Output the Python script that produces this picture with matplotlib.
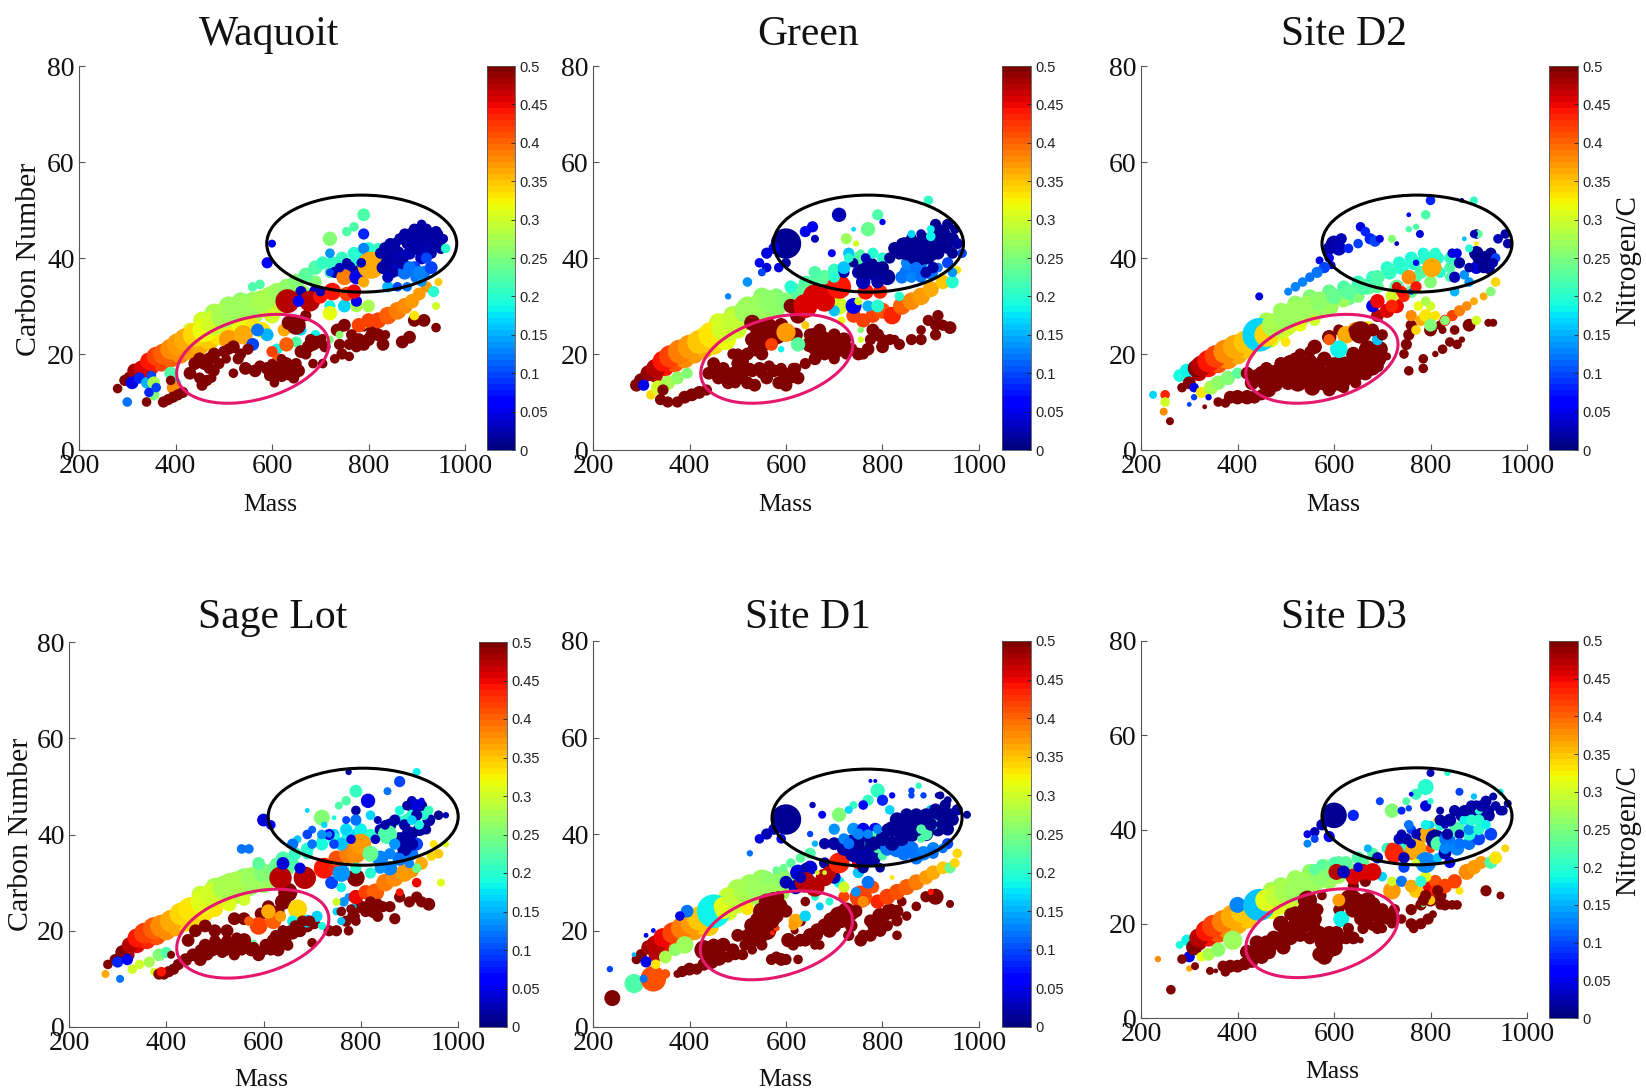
import numpy as np
import matplotlib
matplotlib.use("Agg")
import matplotlib.pyplot as plt
from matplotlib.patches import Ellipse
from matplotlib.transforms import IdentityTransform

# every point is (mass, carbon number, nitrogen/C, relative abundance)
# *_band sits under the main points, *_fill on top of them
waquoit_band = [
    (440,22.5,.36,15),(470,24.5,.33,16),(500,26,.31,16),(530,28,.28,15),(560,28.5,.28,14),(590,29.5,.29,12),(620,32,.27,11),(650,33,.26,10),
    (330,16,.46,8),(350,17,.44,9),(370,18,.42,10),(390,19,.4,11),(410,20,.38,12),(430,21,.37,13),(450,22,.36,13),(470,23,.35,13),
    (490,24,.33,13),(510,25,.33,12),(535,26,.32,11),(560,26,.33,9),(430,25,.3,9),(455,27,.3,11),(480,28.5,.28,12),(510,30,.27,12),
    (535,31,.26,11),(560,31.5,.27,9),(600,28,.3,10),(620,30,.29,10),(640,31,.28,9),(665,33,.27,8),(690,35,.25,8),(720,37,.22,7),
    (745,38,.21,7),(770,39,.2,7),(790,40,.18,7),
]
waquoit = [
    (280,12.8,.5,6),(295,14.5,.5,7),(305,15,.5,8),(315,16.5,.48,9),(330,17,.46,10),(345,18.5,.44,11),(360,19.5,.42,12),
    (375,20,.4,13),(390,21,.38,13),(405,22,.37,14),(420,23,.36,14),(440,24,.34,15),(460,25,.32,15),(480,26.5,.3,16),
    (500,28,.28,16),(520,29,.27,15),(540,30,.27,14),(560,30,.27,13),(580,31,.28,14),(595,32,.28,12),(610,33,.27,11),
    (630,34,.26,10),(560,34,.22,6),(575,34.5,.22,6),(650,35,.25,10),(670,36.5,.23,9),(690,38,.22,9),(705,39,.21,8),
    (725,39,.21,8),(745,40,.21,8),(770,41,.2,8),(800,42,.2,8),(820,42,.21,7),
    (310,14,.05,8),(325,15,.08,7),(340,14,.15,7),(350,15.5,.1,6),(355,14,.28,8),(355,11.5,.25,7),(345,12,.08,6),(360,13,.1,6),
    (300,10,.12,6),(390,16,.22,8),(400,14,.2,7),(395,13,.38,8),(340,10,.5,6),(375,10,.5,7),(385,10.5,.5,7),(395,11,.5,7),
    (405,11.5,.5,7),(415,12,.5,7),(390,14.5,.5,6),
    (510,23,.37,12),(540,24,.36,12),(580,25,.33,10),(560,22,.1,8),(590,24,.15,8),(570,25,.12,8),(650,22.5,.22,7),(610,21,.18,7),
    (612,19,.4,7),(600,20.5,.42,7),(630,22,.4,9),(625,25,.36,8),(690,24,.18,6),(660,25,.17,7),
    (430,16,.5,8),(440,18,.5,8),(450,19,.5,8),(460,18,.5,8),(470,19,.5,8),(480,20,.5,8),(450,15,.5,7),(455,13.5,.5,7),
    (465,14.5,.5,7),(480,16.5,.5,7),(475,15,.5,6),(500,20.5,.5,7),(510,21,.5,7),(520,21.5,.5,8),(535,20,.5,7),(530,19,.5,7),
    (545,17,.5,8),(520,16,.5,6),(550,21,.5,7),(565,16.5,.5,8),(590,17,.5,8),(600,16,.5,8),(610,17,.5,9),(625,17.5,.5,9),
    (635,16,.5,9),(605,14,.5,6),(620,15.5,.5,8),(630,18,.5,8),(650,18,.5,7),(655,16.5,.5,8),(645,15,.5,7),(660,20.5,.5,8),
    (675,21.5,.5,8),(685,22,.5,8),(695,22.5,.5,8),(705,23,.5,7),(685,18,.5,6),(705,18,.5,6),(730,19,.5,6),(745,20,.5,7),
    (760,22,.5,7),(780,23,.5,8),(790,22,.5,8),(800,23,.5,8),(820,24,.5,8),(830,22,.5,8),(870,22.5,.5,8),(885,23.5,.5,8),
    (895,27,.5,8),(915,27,.5,8),(940,25.5,.5,6),(735,25,.5,8),(750,26,.5,8),(635,26.5,.5,9),(650,26,.5,12),(670,28,.5,7),
    (790,26,.5,8),(810,25,.5,8),(720,23,.25,5),(740,24,.26,5),(790,26,.28,5),
    (780,26,.42,9),(800,27,.42,9),(820,27,.42,10),(840,28,.4,11),(860,29,.39,11),(875,30,.38,10),(890,31,.37,9),(905,32.5,.37,8),
    (920,34,.37,7),(935,33,.2,7),(945,35,.35,5),(940,30,.3,5),(895,28,.33,6),(720,30,.18,7),(750,30,.17,8),(720,28.5,.32,9),
    (775,30,.28,8),(800,30,.28,8),(840,34,.15,7),
    (660,33,.03,7),(690,33,.03,8),(730,37,.03,7),(760,38,.03,8),(780,37,.02,9),(720,41,.14,6),(790,42,.13,7),(775,31,.05,7),
    (632,31,.47,15),(678,31,.47,13),(655,31,.06,7),(700,32,.44,9),(725,33,.44,11),(755,32.5,.42,9),(770,33,.45,9),(750,36,.39,10),
    (775,36,.05,9),(790,35,.36,7),(805,38.5,.36,17),
    (830,38,.02,8),(840,39,.02,9),(850,40,.02,10),(860,41,.02,9),(870,40,.03,8),(880,43,.02,7),(890,43.5,.02,7),(900,44,.02,8),
    (910,45,.02,8),(920,46,.02,7),(930,44.5,.02,8),(940,45.5,.02,7),(945,43,.02,8),(950,42,.02,7),(925,42,.03,8),(905,42,.03,8),
    (885,41,.03,8),(860,37.5,.04,8),(910,40,.03,8),(895,38,.1,8),(915,37,.12,8),(875,37,.12,9),(900,36,.12,8),(930,38,.1,8),(960,42,.2,6),
    (720,44,.25,9),(755,45.5,.22,6),(770,46.5,.22,6),(790,49,.22,8),(790,45,.08,7),(600,43,.05,5),(590,39,.06,7),
]
waquoit_fill = [
    (825,41,.02,7),(835,42,.02,8),(845,43,.02,7),(855,43,.02,7),(865,44,.02,7),(875,45,.02,7),(885,45,.02,7),(895,46,.02,7),
    (905,46,.02,7),(915,44,.02,8),(925,44,.02,8),(935,43,.02,7),(945,45,.02,6),(955,44,.02,6),(910,47,.02,6),(870,39,.02,8),
    (850,37,.02,7),(840,36,.03,7),(900,42,.02,8),(930,41,.02,7),(860,34,.1,6),(880,34,.12,6),(910,35,.14,6),(920,40,.1,7),
    (885,38,.12,8),(905,37,.13,8),(740,38,.03,6),(755,39,.02,6),(785,39,.03,6),(720,37,.1,5),(700,33,.03,6),
    (470,17,.5,7),(490,18,.5,7),(505,19,.5,6),(575,17.5,.5,7),(595,15.5,.5,7),(615,16,.5,7),(600,18,.5,6),(640,17,.5,7),
    (620,19,.5,6),(670,20,.5,7),(680,23,.5,7),(710,21.5,.5,7),(740,22,.5,7),(765,24,.5,7),(775,21.5,.5,7),(805,24,.5,7),
    (760,19.5,.5,6),(835,24,.5,6),
]

green_band = [
    (460,24,.32,15),(490,26,.3,16),(520,27.5,.28,15),(550,29,.27,14),(580,30,.26,13),(620,32,.24,11),
    (330,15.5,.47,9),(350,17,.44,10),(370,18,.41,11),(390,19,.38,12),(410,20,.37,12),(430,21,.36,12),(450,22,.34,13),(475,23,.32,13),
    (500,25,.3,11),(430,24,.32,10),(460,26.5,.3,12),(490,28,.28,12),(520,30,.27,12),(550,32,.26,11),(580,32,.25,10),(610,30,.27,9),
    (640,35,.22,8),(660,35,.23,9),(690,34,.46,9),
]
green = [
    (290,13.5,.5,8),(300,14.5,.5,9),(315,16,.49,10),(330,17,.47,12),(345,18.5,.44,13),(360,19.5,.42,14),(380,20.5,.39,15),
    (400,21.5,.37,15),(420,22.5,.35,15),(445,24,.33,16),(475,25.5,.3,18),(495,27,.29,16),(520,29,.27,16),(545,30,.27,15),
    (565,31,.26,14),(600,31,.25,11),(625,33,.23,10),(650,34,.23,10),(680,36,.23,9),(700,37.5,.21,8),(660,37,.22,8),(610,34,.2,8),
    (305,13.5,.05,7),(320,11.5,.34,6),(335,13,.3,9),(355,14,.28,9),(375,15,.26,8),(395,16,.25,7),(345,12.5,.5,7),(340,10.5,.5,7),
    (355,10,.5,7),(375,10,.5,7),(390,11,.5,8),(405,11.5,.5,8),(420,12,.5,8),(435,12.5,.5,7),
    (440,16,.5,8),(450,18,.5,8),(460,15,.5,8),(470,17,.5,8),(480,14,.5,8),(490,16,.5,8),(500,18,.5,8),(510,16,.5,8),(520,14,.5,8),
    (530,16.5,.5,8),(535,13.5,.5,8),(545,17,.5,8),(560,15,.5,8),(575,16.5,.5,8),(585,14,.5,8),(595,16,.5,8),(600,13.5,.5,8),
    (625,15,.5,8),(640,18,.5,7),(615,17,.5,7),(490,20,.5,7),(510,18.5,.5,8),(520,20,.5,8),(535,21,.5,9),(550,22,.5,10),
    (560,24,.5,12),(545,25,.5,11),(530,26.5,.5,10),(580,24,.5,12),(590,26,.5,9),(620,24,.5,9),(650,22,.5,10),(660,24,.5,9),
    (680,23,.5,10),(700,22,.5,10),(720,23,.5,9),(735,21,.5,8),(660,19,.5,8),(680,20,.5,8),(700,19,.5,7),(725,20,.5,7),(750,20,.5,8),
    (770,21,.5,8),(790,24,.5,8),(800,21.5,.5,8),(815,23,.5,7),(835,22,.5,7),(860,23,.5,7),(880,23,.5,7),(895,27,.5,7),(910,26,.5,7),
    (915,28,.5,7),(925,26,.5,7),(940,25.5,.5,8),(910,24,.5,7),(760,20,.5,7),(780,25,.5,8),(610,30,.5,9),(625,28,.5,10),
    (570,22,.42,8),(625,22,.23,9),(600,24.5,.37,12),(640,26,.35,5),(590,21,.18,4),
    (740,28,.42,9),(760,27,.42,9),(780,28,.42,9),(800,29,.41,10),(820,28,.43,11),(840,30,.4,11),(860,31,.38,11),(880,32,.37,11),
    (900,33.5,.36,10),(925,35,.35,9),(945,35,.2,8),(755,25,.25,4),(755,23,.3,4),(715,27,.32,5),
    (710,30,.3,11),(700,29,.16,7),(740,30,.05,10),(770,30,.15,7),(790,30,.2,8),(835,32,.2,6),(750,31,.3,5),
    (640,30,.46,15),(660,32,.46,15),(680,31,.46,13),(710,34,.44,15),(765,33,.44,10),(795,33,.43,9),
    (790,37,.01,13),(770,38,.01,14),(810,36,.01,10),(750,37,.02,8),(720,37,.02,7),(760,35,.03,9),
    (850,37,.12,9),(870,37,.12,9),(855,39,.13,10),(900,37,.12,9),(880,39,.12,8),(840,36,.12,8),(935,39,.1,7),
    (850,41,.01,9),(870,42,.01,10),(890,42,.01,10),(840,43,.01,7),(860,44,.01,7),(880,40,.01,9),(900,41,.01,10),(920,43,.01,9),(930,45,.01,7),
    (905,45,.01,7),(910,47,.01,7),(935,47,.01,7),(945,44,.01,8),(955,43,.02,7),(965,41,.1,6),(955,37.5,.33,5),
    (880,45,.02,6),(800,40,.2,7),(780,41,.2,7),(750,40,.22,8),(730,41,.16,7),(720,38,.16,8),(745,43,.3,4),(755,41,.22,5),
    (600,43,.01,19),(575,42,.04,7),(560,41,.04,7),(545,39,.06,6),(560,38,.04,6),(550,37,.1,5),(520,35,.14,6),(480,32,.13,4),
    (585,38,.04,6),(600,39,.02,6),(640,45.5,.05,7),(655,46.5,.05,7),(660,44,.03,5),(710,49,.03,9),(695,41,.06,5),(725,44,.27,7),
    (740,46,.17,3),(770,46,.24,9),(790,49,.22,7),(800,47.5,.05,4),(895,52,.21,6),
]
green_fill = [
    (460,17,.5,7),(475,16,.5,7),(495,14,.5,7),(505,15,.5,7),(525,17,.5,7),(550,16,.5,7),(565,17.5,.5,7),(590,17,.5,7),(610,15,.5,7),
    (620,17,.5,7),(500,20,.5,7),(530,23,.5,9),(550,20,.5,8),(540,24,.5,9),(565,26,.5,9),(660,21,.5,8),(675,22,.5,8),(690,21,.5,8),
    (705,20.5,.5,8),(720,21,.5,8),(650,24,.5,8),(670,25,.5,8),(700,24,.5,8),(775,23,.5,7),(800,23,.5,7),(825,23,.5,6),(880,25,.5,6),
    (815,40,.01,7),(825,42,.01,8),(835,41,.01,8),(845,43,.01,8),(855,42,.01,8),(865,40,.01,8),(875,43,.01,8),(885,44,.01,8),(895,40,.01,8),
    (905,43,.01,8),(915,41,.01,8),(925,45,.01,7),(935,42,.01,7),(945,41,.01,7),(950,46,.01,6),(920,46,.01,6),(760,37,.01,8),(780,37,.01,9),
    (790,35,.02,8),(800,38,.01,8),(740,39,.01,6),(765,40,.03,6),(860,36,.13,7),(880,36,.12,7),(915,38,.12,6),(890,37,.02,7),(905,38,.02,7),
    (870,38,.12,7),(945,37,.14,6),(700,36,.2,7),(730,40,.2,6),(860,45,.17,5),(900,46,.18,5),(900,44.5,.18,6),
]

site_d2_band = [
    (470,25,.3,14),(500,26,.29,14),(530,28,.28,14),(560,29,.27,13),(590,30,.27,12),(630,32,.24,11),(670,34,.23,10),
    (320,16,.47,10),(340,17,.44,11),(360,18,.41,12),(380,19,.38,13),(400,20,.36,13),(420,21,.35,12),(470,23,.31,10),(490,24.5,.3,11),
    (510,26,.3,10),(530,26,.32,8),(560,27,.3,7),(460,27,.28,10),(490,29,.27,10),(520,30.5,.26,10),(550,32,.25,9),(590,33,.24,9),(620,34,.22,8),
    (650,35,.21,8),(680,36,.21,8),(710,38,.2,8),(735,39,.2,8),(760,40,.19,8),(785,41,.19,7),(810,41,.2,7),(580,30,.27,8),(620,31,.27,8),
    (650,32,.25,8),(690,34,.23,8),(840,38,.22,7),(770,36,.22,7),(820,37,.2,7),(840,36,.22,6),
]
site_d2 = [
    (280,15.5,.19,8),(295,16.5,.18,9),(315,17,.5,11),(325,17.5,.47,13),(340,18.5,.44,14),(355,19.5,.42,14),(375,20.5,.38,15),
    (395,21.5,.36,15),(415,22.5,.35,14),(445,24,.17,21),(460,24,.34,15),(475,26,.28,15),(500,27.5,.27,15),(520,29,.27,14),
    (545,30,.27,13),(570,31,.26,12),(600,32,.24,10),(630,33,.23,10),(660,34,.22,10),(690,36,.22,9),(715,37,.21,9),(740,38,.2,9),
    (765,39,.2,9),(790,40,.2,9),(815,40,.2,8),(840,40,.21,7),(860,39,.2,7),(780,37,.22,8),(730,34,.23,9),(760,33,.24,8),(800,35,.25,8),
    (225,11.5,.17,5),(250,11.5,.43,6),(250,10,.3,6),(247,8,.38,5),(260,6,.5,5),(300,9.5,.1,3),(310,11,.1,4),(332,9,.5,3),
    (285,13,.5,6),(300,14,.5,8),(310,13,.05,6),(325,12,.33,7),(345,13,.28,9),(360,14,.26,9),(380,15,.25,9),(400,16,.23,7),(340,11,.05,4),
    (360,10,.5,6),(375,9.8,.5,6),(385,11,.5,8),(400,11,.5,9),(420,11,.5,9),(435,11,.5,8),(450,11.5,.5,7),
    (420,16,.5,8),(440,15,.5,11),(460,14,.5,11),(480,16,.5,11),(465,12.5,.5,9),(495,15,.5,11),(510,18,.5,11),(525,14,.5,11),(540,16,.5,11),
    (555,13,.5,10),(570,16,.5,11),(585,14,.5,11),(600,17,.5,11),(615,14,.5,11),(630,16,.5,11),(645,17,.5,11),(660,18,.5,11),(675,18,.5,11),
    (690,19,.5,11),(695,21,.5,10),(670,21,.5,11),(640,20,.5,9),(610,18,.5,9),(580,19,.5,9),(550,18.5,.5,9),(520,19,.5,8),(490,18,.5,8),
    (645,14,.5,7),(620,13,.5,7),(590,12.5,.5,8),(710,19.5,.5,5),(560,21.5,.5,9),(590,23.5,.5,9),(610,25,.5,7),(500,22.5,.33,6),
    (625,24,.36,11),(645,25,.38,10),(670,25.5,.33,8),(690,23,.16,7),(640,25,.5,6),(655,24.5,.5,14),(610,21,.18,11),(590,23,.4,7),
    (680,25,.5,8),(700,24,.5,7),(750,22,.5,7),(755,24,.5,7),(760,26,.5,7),(745,20,.5,6),(755,16.5,.5,6),(785,19,.5,6),(785,17,.5,6),
    (800,25,.5,8),(820,26,.5,6),(810,20,.5,4),(825,21,.5,6),(840,22.5,.5,6),(855,22,.5,6),(850,25,.5,6),(865,23,.5,4),(880,26,.5,8),
    (920,26.5,.5,5),(930,26.5,.5,5),(825,25,.5,5),(830,27,.43,7),(845,28,.42,7),(860,29,.39,7),(875,30,.38,6),(890,31,.36,5),(910,32,.36,5),
    (935,35,.34,6),(925,33,.25,6),(895,27,.3,6),(770,25,.34,6),(780,27,.36,7),(790,28,.33,8),(810,28,.33,6),(800,26,.25,8),(830,27,.25,6),
    (690,28,.47,8),(710,29,.46,9),(730,30,.45,9),(680,30,.05,8),(690,31,.45,9),(720,32,.3,8),(745,32,.43,7),(775,30,.32,6),(800,30,.3,6),
    (760,28,.38,7),(790,31,.28,6),(850,33,.15,6),(720,30,.43,8),(740,33,.44,7),(730,34,.46,6),(760,33,.1,4),
    (755,36,.38,9),(770,34,.44,7),(803,38,.36,12),(770,39,.05,4),(850,36,.03,7),(870,36.5,.14,6),(880,35,.14,6),(860,39,.02,7),
    (845,41,.04,6),(855,41,.05,6),(895,41,.01,9),(905,39,.01,9),(915,40,.01,9),(925,41,.01,7),(920,38,.02,8),(895,38,.04,8),(935,40,.1,6),
    (895,45,.02,6),(940,44,.03,6),(955,45,.02,6),(960,43,.02,6),(900,45,.23,5),(870,44,.16,3),(895,43,.33,3),(880,42,.2,5),
    (590,42,.02,8),(600,43,.02,10),(610,42,.03,9),(615,44,.03,7),(630,42,.08,6),(650,43,.1,6),(655,46.5,.04,6),(665,45.5,.08,6),(675,44,.08,7),
    (685,43.5,.1,7),(695,44,.04,5),(590,40,.05,6),(570,39.5,.05,5),(595,38.5,.05,5),(580,38,.1,7),(565,37,.12,7),(550,36,.12,6),(535,35,.13,6),
    (520,34,.13,6),(505,33,.13,5),(445,32,.04,5),(720,44,.25,5),(730,43,.03,3),(755,46,.22,4),(770,46.5,.22,4),(790,49,.22,6),(778,45,.04,5),
    (755,49,.06,3),(800,52,.08,6),(865,52,.03,3),(890,52,.21,5),(890,45,.03,5),
]
site_d2_fill = [
    (430,14,.5,9),(450,16,.5,9),(470,15,.5,9),(480,13.5,.5,8),(505,14,.5,9),(520,16,.5,9),(535,18,.5,9),(550,15,.5,9),(560,17,.5,9),(575,14,.5,9),
    (590,16,.5,9),(595,13,.5,7),(605,15,.5,9),(625,15,.5,9),(640,15.5,.5,9),(650,16,.5,9),(665,16,.5,9),(680,17,.5,9),(690,17.5,.5,8),(600,18,.5,8),
    (625,18,.5,9),(650,19,.5,9),(680,20,.5,9),(570,18,.5,8),(530,20,.5,7),(460,17,.5,8),(490,18,.5,8),(550,20.5,.5,7),(700,20,.5,6),
    (900,40,.01,8),(910,38,.01,7),(880,38,.02,6),(930,39,.02,6),
]

sage_lot_band = [
    (450,23,.35,15),(480,25,.32,15),(510,27,.3,15),(540,28,.28,15),(570,29.5,.27,14),(600,30,.27,13),(630,32,.26,11),
    (320,15,.48,9),(340,17,.46,10),(360,18,.43,11),(380,19,.41,12),(400,20,.38,12),(420,21,.36,13),(440,22,.34,13),(460,23,.34,13),(480,24,.33,12),
    (500,24.5,.33,10),(530,25.5,.31,9),(560,26.5,.3,8),(440,25,.31,9),(470,27.5,.29,11),(500,29,.28,12),(530,30,.27,12),(560,31,.26,12),(590,32,.25,11),
    (620,31,.27,10),(650,33,.24,9),(625,34,.23,7),(660,34,.22,8),(690,36,.2,7),(720,39,.18,6),(745,40,.17,7),(770,39,.19,7),(790,40,.17,7),
]
sage_lot = [
    (275,11,.36,5),(280,13,.5,6),(295,14,.5,7),(310,15.5,.5,9),(325,17,.47,10),(340,18.5,.44,12),(355,19.5,.42,13),(375,20.5,.4,14),
    (390,21,.38,14),(410,22,.36,14),(430,23.5,.34,14),(450,24.5,.33,15),(475,26,.31,15),(495,27.5,.3,15),(520,29,.28,15),(545,30,.28,14),
    (575,31,.27,13),(600,32,.25,12),(625,33,.24,10),(590,34,.23,8),(640,35,.22,9),(665,36,.21,8),(690,37,.2,8),(720,38,.19,8),(745,39,.19,8),
    (770,41,.19,8),(800,41,.18,8),(820,40,.2,7),(555,37,.12,6),(570,37,.12,6),
    (305,10,.12,5),(300,13.5,.08,7),(320,14,.06,7),(330,12,.3,6),(345,13,.3,6),(365,13.5,.28,7),(385,15,.25,8),(400,15.5,.22,7),(375,11.5,.3,5),
    (385,11,.5,7),(395,11,.5,7),(405,11.5,.5,7),(415,12,.5,7),(425,13,.5,7),(390,11.5,.44,6),(410,15,.5,5),
    (440,14,.5,8),(455,15,.5,8),(470,14,.5,8),(480,17,.5,8),(495,16,.5,8),(510,17,.5,8),(520,16,.5,8),(535,17,.5,9),(550,17.5,.5,9),(560,18,.5,9),
    (540,15,.5,7),(575,16,.5,8),(590,15,.5,8),(605,17,.5,8),(620,18,.5,8),(635,18,.5,8),(645,18.5,.5,8),(630,16,.5,8),(660,19.5,.5,8),(675,20,.5,8),
    (690,21,.5,8),(705,21.5,.5,7),(700,17.5,.5,6),(655,20,.5,7),(445,18,.5,8),(460,20,.5,8),(480,21,.5,8),(500,20,.5,8),(525,20,.5,8),(540,22.5,.5,8),
    (560,22.5,.5,8),(595,23.5,.5,8),(610,25,.5,8),(640,26,.5,10),(650,28,.5,12),(630,24,.5,8),(735,20,.5,7),(750,20,.5,7),(770,22,.5,7),(785,23,.5,8),
    (800,25,.5,8),(825,24,.5,8),(835,23,.5,7),(870,22.5,.5,7),(860,25,.5,7),(880,27,.5,7),(900,26,.5,7),(915,27,.5,7),(925,26,.5,7),(940,25.5,.5,8),(775,20,.5,6),
    (590,21,.42,11),(570,22,.4,6),(620,22,.4,10),(610,24,.36,9),(635,23,.37,7),(670,24.5,.34,12),(660,22,.18,7),(690,22,.17,8),(710,23,.17,7),(720,21,.19,5),
    (750,24,.17,5),(765,26,.14,6),(775,27,.14,5),(760,22,.16,5),(750,26,.3,5),(760,29,.18,6),(785,25,.16,4),(580,17.5,.24,4),
    (790,27,.45,9),(810,28,.42,9),(830,28,.4,11),(850,30,.39,11),(870,31,.38,11),(890,32,.37,11),(905,32.5,.37,9),(925,34,.36,8),(915,33,.24,6),(880,28,.44,5),
    (915,30,.45,6),(965,30,.31,5),(960,36,.35,6),(945,35.5,.34,6),(950,38,.33,5),(975,38,.31,4),
    (635,31,.47,14),(685,31,.47,14),(725,33,.44,13),(750,33,.43,10),(740,30,.1,8),(640,34,.04,8),(675,33,.04,7),(790,31,.5,11),(760,32,.14,11),
    (750,35,.41,10),(775,36,.39,12),(790,36,.38,12),(800,38,.37,13),
    (860,33,.13,9),(840,35,.13,10),(880,35,.12,9),(905,36,.12,8),(790,33,.2,7),(820,32,.2,7),(820,36,.24,10),
    (760,38,.16,8),(735,40,.05,7),(700,41,.11,5),(690,40,.1,6),(670,39,.16,5),(660,38,.12,7),
    (840,41,.02,7),(860,42,.02,8),(880,39,.02,9),(900,40,.02,10),(920,41,.01,8),(890,37,.02,9),(940,43,.02,8),(960,44,.01,6),(925,46,.01,7),(905,46,.03,8),
    (895,43,.21,8),(855,40,.22,12),(875,43,.2,7),(905,44,.2,7),(930,44,.2,6),(915,38,.1,8),
    (600,43,.04,8),(615,42,.06,6),(720,43.5,.25,10),(690,45,.17,3),(725,42,.17,4),(745,43.5,.19,3),(735,40,.13,4),(755,46,.22,5),(770,47,.22,6),
    (790,49,.21,8),(775,53,.02,4),(790,45,.02,6),(815,47,.05,9),(855,49,.12,5),(880,51,.1,7),(915,53,.18,5),(790,43,.12,7),(770,43,.1,5),(835,43,.03,5),
    (905,47,.03,6),(925,47,.05,4),(940,45,.21,6),(975,44,.03,4),(915,46,.04,8),
]
sage_lot_fill = [
    (470,16,.5,7),(485,15,.5,7),(500,18,.5,7),(515,15.5,.5,7),(525,18,.5,7),(545,18.5,.5,7),(555,16,.5,7),(565,17,.5,7),(580,16.5,.5,7),(600,16,.5,7),
    (615,16,.5,7),(625,19,.5,7),(650,17,.5,7),(665,21,.5,7),(680,22,.5,7),(695,22,.5,7),(640,20,.5,7),(760,24,.5,6),(780,24.5,.5,6),(810,24,.5,7),
    (845,25,.5,7),(820,26,.5,7),(835,25.5,.5,7),(790,22,.5,6),(830,39,.03,6),(850,42,.02,6),(870,43,.02,7),(890,42,.02,7),(915,44,.02,7),(935,41,.02,6),
    (905,38,.02,8),(925,41,.02,7),(880,35,.12,7),(860,36,.13,7),(840,33,.14,7),(900,34,.13,6),(870,38,.14,7),(700,38,.12,6),(720,40,.14,6),(745,38,.1,6),
    (770,41,.17,7),(780,39,.04,6),(820,44,.17,6),(880,45,.19,6),(895,46,.02,6),(920,42,.19,6),(905,43,.17,6),
]

site_d1_band = [
    (440,21,.35,13),(510,27,.28,14),(540,28.5,.27,14),(575,28,.26,13),
    (330,15,.47,9),(350,17,.45,10),(370,18,.42,11),(390,19,.39,12),(410,20,.37,12),(430,21,.35,12),(370,20,.42,11),(480,24,.3,12),(500,25.5,.3,12),
    (520,26.5,.29,11),(540,27,.28,11),(560,27.5,.27,11),(480,27,.29,12),(500,28.5,.28,13),(525,29.5,.27,13),(550,30.5,.27,13),(570,28.5,.27,12),
]
site_d1 = [
    (290,14,.5,6),(300,15,.5,7),(315,16.5,.48,9),(330,17,.47,12),(345,18.5,.45,12),(365,19.5,.42,13),(385,20.5,.39,14),(405,21.5,.37,14),
    (420,22.5,.35,15),(395,24,.12,8),(380,23,.05,6),(450,24,.18,21),(470,25,.32,12),(490,26.5,.29,14),(515,28,.28,14),(535,29,.27,13),
    (555,30,.27,13),(575,29,.27,11),(590,28,.27,11),(470,24,.31,10),(520,24.5,.33,8),
    (285,15,.15,3),(310,19,.05,3),(325,20,.05,3),(235,12,.1,4),(240,6,.5,10),(232,6,.5,4),(285,9,.22,12),(325,10,.41,16),(305,10,.12,5),(350,11,.41,6),
    (310,13.5,.05,7),(330,13,.33,6),(350,14.5,.28,8),(370,16,.26,8),(390,17,.27,11),(375,11,.5,5),(385,11.5,.5,7),(400,12,.5,8),(415,12,.5,7),(430,13,.5,8),(445,13.5,.5,9),
    (430,16,.5,12),(460,14.5,.5,11),(470,17,.5,9),(490,16,.5,8),(510,15,.5,7),(515,17,.5,7),(500,19,.5,8),(525,18,.5,9),(545,19,.5,11),(560,20,.5,12),
    (530,21,.5,10),(545,22,.5,12),(565,24,.5,13),(575,26,.5,12),(585,25,.5,11),(600,24,.5,8),(570,14,.5,7),(580,14.5,.5,7),(590,14,.5,8),(600,14,.5,7),(625,14,.5,6),
    (660,17,.5,6),(615,17,.5,7),(605,18,.5,9),(630,18,.5,8),(650,19,.5,9),(665,20,.5,9),(680,21,.5,9),(695,22,.5,11),(710,23,.5,12),(725,24,.5,11),(735,21,.5,8),
    (730,19,.5,7),(755,18,.5,8),(775,19,.5,8),(795,20,.5,8),(810,21,.5,7),(775,22,.5,8),(795,23,.5,10),(815,24,.5,10),(830,19,.5,6),(830,22,.5,7),(850,23,.5,6),(870,25,.5,6),
    (890,27,.5,7),(910,27,.5,10),(940,25.5,.5,5),(840,26,.5,6),(640,26,.5,6),(585,27,.5,7),(630,22,.5,7),(580,20.5,.42,4),(572,19.5,.43,3),(618,20,.5,5),
    (620,22,.36,9),(615,21,.37,6),(640,23,.17,7),(670,25,.16,5),(690,26,.2,5),(660,27,.2,5),
    (790,26,.43,9),(810,27,.42,10),(830,28,.41,10),(850,29,.4,10),(870,30,.39,10),(890,31,.37,9),(905,32,.36,9),(925,33,.35,8),(940,33,.24,7),(955,36,.34,6),(950,34,.34,6),
    (900,28,.44,4),(755,27,.42,14),(720,27,.42,7),(745,24,.3,3),(760,26,.38,7),(780,29,.41,8),(820,31,.33,3),(770,30,.12,8),(750,32,.16,7),(710,30,.18,7),(720,29,.3,7),(745,28,.14,6),
    (560,31,.26,8),(590,31,.26,12),(610,30,.27,9),(580,32.5,.24,5),(595,33,.24,5),(610,34,.23,6),(630,35,.23,6),(650,36,.22,7),
    (600,30,.03,8),(620,29,.03,9),(625,32,.04,10),(650,33,.04,9),(680,34,.02,7),(700,31,.03,8),(640,30,.47,13),(660,29,.47,12),(680,31,.47,11),(690,32,.47,9),(710,34,.43,13),
    (665,32,.3,3),(680,32,.3,3),(750,34,.46,8),(740,36,.02,11),(760,35,.02,11),(780,35,.02,10),(720,37,.02,9),(700,38,.02,8),(680,38,.02,7),
    (740,38,.02,12),(770,38,.02,12),(720,39,.13,7),(740,41,.14,8),(700,41,.14,7),(760,41,.05,8),(785,41,.05,8),(760,38,.2,3),(790,37,.22,6),(800,35.5,.22,6),(785,40,.22,5),
    (820,41,.01,10),(840,42,.01,10),(860,43,.01,10),(880,43,.01,9),(900,43,.01,8),(920,44,.01,8),(940,44,.01,8),(955,45,.02,7),(975,44,.01,5),(935,47,.01,5),(920,48,.01,5),
    (860,40,.01,10),(890,40,.01,9),(915,41,.01,9),(935,41,.01,8),(800,38,.02,8),(810,37,.12,9),(830,37,.12,11),(860,37,.12,9),(885,36,.13,9),(905,37,.13,8),(935,38,.1,7),
    (880,39,.22,5),(890,40,.22,8),(905,42,.22,7),(880,44,.16,5),(900,45,.16,6),
    (600,43,.01,19),(575,41,.03,7),(560,40,.03,7),(545,39,.04,6),(590,39,.05,6),(525,36,.12,4),(655,46,.03,4),(650,40,.1,4),(660,38,.15,4),(675,44,.06,5),(710,44,.25,9),
    (740,46,.21,5),(790,49,.21,9),(770,47,.21,7),(730,45,.17,5),(760,46,.06,6),(800,47,.08,7),(820,48,.06,4),(815,45,.17,6),(775,51,.05,2.5),(785,51,.05,2.5),
    (860,49,.1,4),(860,48,.1,4),(875,50,.21,4),(885,48,.1,4),(915,48,.02,4),
]
site_d1_fill = [
    (440,15,.5,8),(450,17,.5,8),(480,14.5,.5,7),(495,15,.5,7),(520,19,.5,8),(535,18,.5,8),(550,17,.5,7),(530,16,.5,6),(550,24,.5,11),(560,26,.5,10),(540,21,.5,9),
    (570,22,.5,10),(580,23,.5,9),(665,19,.5,7),(640,18,.5,8),(670,17,.5,6),(690,20,.5,9),(700,21,.5,9),(715,22,.5,9),(735,23.5,.5,9),(745,24,.5,8),(790,22,.5,7),
    (810,23.5,.5,8),(830,24,.5,8),(760,19,.5,7),(780,21,.5,7),
    (800,39,.01,9),(820,38,.01,9),(840,39,.01,9),(830,43,.01,9),(850,44,.01,8),(870,44,.01,8),(890,44,.01,8),(910,45,.01,8),(930,46,.01,7),(945,43,.01,8),(870,41,.01,9),
    (900,42,.01,8),(925,42,.01,8),(760,36,.02,9),(780,38,.01,9),(750,38,.01,8),(730,38,.12,7),(750,40,.13,7),(770,40,.13,6),(790,41,.13,6),(810,41,.01,7),(845,36,.12,9),
    (870,35,.12,8),(905,36,.12,7),(925,37,.12,6),(880,41,.22,6),(630,31,.03,7),(640,33,.03,6),(760,33,.01,7),(795,33,.01,6),
]

site_d3_band = [
    (470,25,.3,14),(500,26,.29,14),(530,28,.28,14),(560,29,.27,13),(590,30,.26,12),(630,31,.25,10),
    (320,16,.47,10),(340,17,.44,11),(360,18,.41,12),(380,19,.38,13),(400,20,.36,13),(420,21,.35,12),(470,23,.32,12),(490,24,.31,12),(510,25,.3,11),(530,26,.29,10),
    (470,27,.28,11),(490,28,.27,11),(520,29.5,.27,11),(550,31,.26,10),(580,32,.25,10),(610,33,.23,8),(590,29,.27,10),(610,30,.27,9),(630,32,.25,8),(660,33,.23,8),
    (690,34,.22,7),(720,35,.22,7),(750,36,.21,7),(770,38,.21,7),
]
site_d3 = [
    (280,15.5,.19,5),(295,16.5,.18,7),(300,13,.05,7),(310,15,.5,10),(320,17,.47,12),(335,18.5,.44,13),(350,19.5,.42,14),(370,20.5,.39,14),
    (390,21.5,.36,15),(410,22.5,.35,14),(400,24,.13,10),(445,24,.16,20),(460,25,.31,14),(480,26,.29,14),(500,27,.28,15),(520,27,.27,14),
    (545,29,.27,13),(570,30,.26,12),(595,31,.25,10),(625,33,.23,8),(650,34,.22,8),(680,35,.22,7),(710,36,.21,7),(735,37,.2,7),(560,31.5,.23,7),(600,33,.22,7),(575,32.5,.23,7),
    (235,12.5,.38,4),(262,6,.5,6),(300,10.5,.36,4),(312,11,.5,5),(343,10,.5,5),(355,10,.5,3),(375,9.8,.5,6),
    (285,12.5,.5,6),(325,13,.32,6),(340,13.5,.28,8),(360,14.5,.26,9),(390,16.5,.27,12),(370,11,.5,7),(385,11,.5,8),(400,11,.5,8),(415,11.5,.5,8),(430,12,.5,8),
    (420,14,.5,9),(440,16,.5,9),(450,13,.5,9),(465,14,.5,9),(480,16,.5,9),(495,15,.5,9),(510,17,.5,9),(525,18,.5,10),(540,20,.5,11),(550,22,.5,11),(545,25,.5,12),
    (520,22,.5,10),(490,20,.5,10),(510,22,.5,8),(560,21,.5,9),(570,18,.5,9),(585,16,.5,9),(600,15,.5,11),(570,13.5,.5,9),(580,13,.5,10),(605,18,.5,9),(625,17,.5,8),(640,17,.5,8),(655,16.5,.5,4),
    (635,25,.5,14),(650,24,.5,14),(665,23,.5,12),(680,22,.5,9),(695,21,.5,8),(710,21,.5,7),(725,21,.5,7),(660,19,.5,7),(670,20,.5,7),(690,19,.5,7),(725,23,.5,7),
    (610,23,.5,7),(575,26,.5,6),(640,28,.5,7),(665,29,.5,7),
    (760,20,.5,7),(780,20,.5,7),(765,19,.5,6),(795,21,.5,7),(805,22,.5,5),(760,23,.5,7),(780,24,.5,7),(800,25,.5,8),(820,26,.5,8),(830,24,.5,7),(845,24,.5,6),(855,24,.5,6),(810,27,.5,7),
    (915,27,.5,7),(945,26,.5,5),(795,28,.45,7),(810,29,.41,8),
    (610,25,.37,8),(615,21,.18,10),(720,27,.37,11),(770,27,.35,9),(800,25,.35,6),(860,27,.33,5),(785,24,.25,3),(830,29,.3,4),(700,30,.17,6),(720,29,.3,6),(740,29,.12,7),(760,28,.36,8),
    (790,30,.32,7),(780,29,.2,7),(745,32,.1,7),(810,27,.43,7),(830,28,.42,9),(850,29,.42,9),(875,31,.38,10),(890,32,.37,9),(905,33,.37,8),(925,33,.22,8),(935,34,.33,8),(955,36,.34,5),
    (640,30,.46,10),(660,31,.46,10),(680,31,.46,11),(605,31,.47,10),(620,31,.03,8),(650,32,.04,6),
    (690,34,.03,7),(720,36,.43,7),(725,35,.43,12),(760,35,.38,9),(770,36,.36,13),(790,33,.13,13),(800,36,.42,6),(745,34,.03,7),(770,33,.3,5),(840,33,.05,7),(815,34,.16,6),
    (735,38,.03,7),(750,38,.02,7),(780,39,.02,8),(795,39,.36,11),(810,38,.01,12),(815,37,.22,9),(830,35,.02,8),(835,38,.12,10),(820,41,.2,7),(800,41,.16,5),(760,40,.1,6),
    (855,36,.13,9),(880,37,.12,8),(900,38,.1,8),(925,39,.1,8),(880,39,.2,8),(855,40,.22,10),(840,42,.02,8),(865,43,.02,8),(880,44,.02,8),(900,43,.02,8),(920,43,.02,8),(900,42,.2,7),
    (870,42,.18,6),(895,45,.02,7),(915,46,.02,7),(930,47,.02,5),(945,44,.02,6),(960,45.5,.02,5),(945,48,.18,4),(890,47,.16,4),(820,44,.02,5),(830,41,.03,5),(860,39,.03,6),(810,42,.33,3),(900,44,.2,5),
    (600,43,.01,16),(640,43,.08,7),(575,41,.03,7),(560,39.5,.03,6),(545,39,.05,5),(560,38,.1,5),(590,38.5,.05,7),(545,37,.13,5),(670,36,.15,5),(695,46,.1,5),
    (720,44,.25,9),(740,44,.08,5),(755,44.5,.1,4),(750,46,.22,5),(770,47.5,.21,7),(790,49,.2,10),(760,47.5,.05,3),(790,45,.04,7),(800,46,.2,4),(800,52,.03,5),(835,52,.2,4),(860,48,.1,5),
]
site_d3_fill = [
    (430,14,.5,8),(445,14.5,.5,8),(460,16,.5,9),(475,17,.5,9),(490,17,.5,9),(505,18.5,.5,9),(520,20,.5,9),(530,21.5,.5,9),(540,23,.5,10),(530,17.5,.5,8),(550,17,.5,8),(560,19,.5,8),
    (575,16,.5,9),(590,18,.5,9),(550,20,.5,9),(565,23,.5,8),(590,14,.5,8),(610,16.5,.5,7),(630,19,.5,7),(670,25,.5,10),(680,24,.5,10),(700,23,.5,8),(710,22,.5,7),(640,23,.5,10),
    (655,21,.5,8),(680,19.5,.5,6),(700,19,.5,6),(720,20,.5,6),(740,21,.5,6),(785,25,.5,7),(790,26,.5,7),(820,24,.5,6),(815,27,.5,7),
    (820,42,.02,7),(835,39,.02,7),(850,44,.02,7),(870,44,.02,7),(885,45,.02,7),(905,45,.02,7),(920,44,.02,7),(935,45,.02,6),(950,44,.02,6),(830,36,.13,7),(860,37,.12,7),(880,40,.14,7),
    (900,40,.2,7),(885,42,.2,7),(915,41,.18,6),(770,39,.03,6),(755,41,.12,6),(740,39,.03,6),(760,37,.03,6),(790,41,.18,6),
]

site_names = ["Waquoit", "Green", "Site D2", "Sage Lot", "Site D1", "Site D3"]
site_points = [
    waquoit_band + waquoit + waquoit_fill,
    green_band + green + green_fill,
    site_d2_band + site_d2 + site_d2_fill,
    sage_lot_band + sage_lot + sage_lot_fill,
    site_d1_band + site_d1 + site_d1_fill,
    site_d3_band + site_d3 + site_d3_fill,
]

cbar_ticks = [0, 0.05, 0.1, 0.15, 0.2, 0.25, 0.3, 0.35, 0.4, 0.45, 0.5]
cbar_labels = ["0", "0.05", "0.1", "0.15", "0.2", "0.25", "0.3", "0.35", "0.4", "0.45", "0.5"]
x_ticks = [200, 400, 600, 800, 1000]
y_ticks = [0, 20, 40, 60, 80]

# centre of the hand drawn circles, in data units
black_centres = [(786, 43), (771, 43), (772, 43), (805, 43.7), (768, 43.4), (772, 42.8)]
pink_centres = [(560, 19), (581, 19), (575, 19), (578, 19.4), (580, 19), (575, 18)]

W, H = 1646, 1092
DPI = 100
MARKER_SCALE = 1.6

# left, right, top, bottom of axes and left, right of colorbar, full size pixels
layout = [
    (79, 465, 66, 450, 487, 515),
    (593, 979, 66, 450, 1002, 1031),
    (1141, 1527, 66, 450, 1549, 1578),
    (69, 458, 642, 1027, 479, 507),
    (593, 979, 641, 1027, 1002, 1031),
    (1141, 1527, 641, 1018, 1549, 1578),
]
title_pos = [(269, 35), (808, 35), (1344, 35), (273, 618), (808, 618), (1344, 618)]
mass_pos = [(270, 505), (785, 505), (1333, 505), (261, 1080), (785, 1080), (1332, 1072)]
carbon_pos = [(29, 259), None, None, (21, 834), None, None]
nitrogen_pos = [None, None, (1628, 261), None, None, (1628, 831)]

plt.rcParams["font.family"] = ["Liberation Serif", "DejaVu Serif"]
cmap = plt.get_cmap("jet", 64)
AXIS_GREY = "#555555"


def to_fig(px, py):
    return px / W, 1 - py / H


def draw_site(fig, i):
    left, right, top, bottom, cb_left, cb_right = layout[i]
    ax = fig.add_axes([left / W, 1 - bottom / H, (right - left) / W, (bottom - top) / H])

    pts = np.array(site_points[i])
    # abundance sets the marker diameter in pixels
    sizes = (pts[:, 3] * MARKER_SCALE * 72 / DPI) ** 2
    sc = ax.scatter(pts[:, 0], pts[:, 1], c=pts[:, 2], s=sizes, cmap=cmap, vmin=0, vmax=0.5,
                    linewidths=0, clip_on=False, zorder=2)

    ax.set_xlim(200, 1000)
    ax.set_ylim(0, 80)
    ax.set_xticks(x_ticks)
    ax.set_yticks(y_ticks)
    ax.tick_params(direction="in", length=4, width=0.8, color=AXIS_GREY, labelsize=20, pad=3, labelcolor="#111111")
    ax.spines["top"].set_visible(False)
    ax.spines["right"].set_visible(False)
    ax.spines["left"].set_color(AXIS_GREY)
    ax.spines["bottom"].set_color(AXIS_GREY)

    # circles have to stay true in pixel space, so they are drawn there
    fig.canvas.draw()
    bx, by = ax.transData.transform(black_centres[i])
    ax.add_patch(Ellipse((bx, by), 190, 97, angle=0, fill=False, edgecolor="black", linewidth=2.2,
                         transform=IdentityTransform(), zorder=3, clip_on=False))
    px, py = ax.transData.transform(pink_centres[i])
    ax.add_patch(Ellipse((px, py), 156, 82, angle=15, fill=False, edgecolor="#E6186E", linewidth=2.2,
                         transform=IdentityTransform(), zorder=3, clip_on=False))

    cax = fig.add_axes([cb_left / W, 1 - bottom / H, (cb_right - cb_left) / W, (bottom - top) / H])
    cb = fig.colorbar(sc, cax=cax)
    cb.set_ticks(cbar_ticks)
    cb.set_ticklabels(cbar_labels)
    cb.ax.tick_params(direction="in", length=3, width=0.6, labelsize=10.5, pad=3, color="#222222", labelcolor="#222222")
    for lab in cb.ax.get_yticklabels():
        lab.set_family("Liberation Sans")
    cb.outline.set_edgecolor(AXIS_GREY)
    cb.outline.set_linewidth(0.6)

    tx, ty = to_fig(*title_pos[i])
    fig.text(tx, ty, site_names[i], fontsize=30, ha="center", va="center", color="#111111")
    mx, my = to_fig(*mass_pos[i])
    fig.text(mx, my, "Mass", fontsize=18.5, ha="center", va="center", color="#111111")
    if carbon_pos[i]:
        cx, cy = to_fig(*carbon_pos[i])
        fig.text(cx, cy, "Carbon Number", fontsize=21.5, rotation=90, ha="center", va="center", color="#111111")
    if nitrogen_pos[i]:
        nx, ny = to_fig(*nitrogen_pos[i])
        fig.text(nx, ny, "Nitrogen/C", fontsize=21, rotation=90, ha="center", va="center", color="#111111")


fig = plt.figure(figsize=(W / DPI, H / DPI), dpi=DPI, facecolor="white")
for i in range(6):
    draw_site(fig, i)

fig.savefig("out.png", dpi=DPI)
